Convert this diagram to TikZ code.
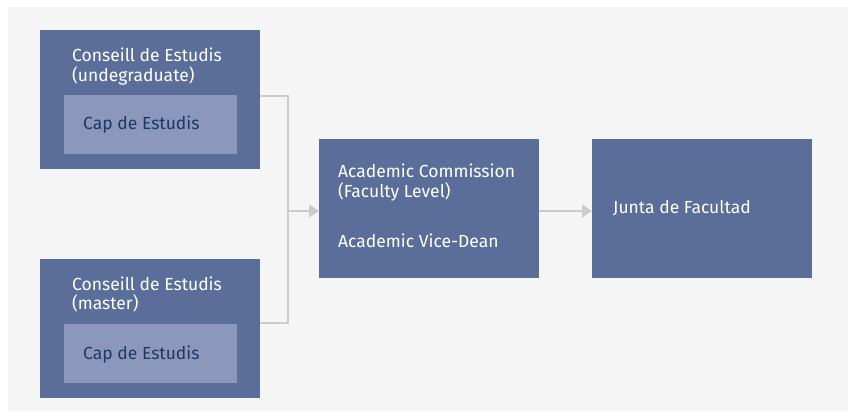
\documentclass[tikz,border=0pt]{standalone}
\usepackage{fontspec}
\setmainfont{Fira Sans}
\usetikzlibrary{arrows.meta}
\usetikzlibrary{positioning}
\usetikzlibrary{calc}

\definecolor{unitblue}{RGB}{91,110,154}
\definecolor{subblue}{RGB}{139,152,187}
\definecolor{subtext}{RGB}{28,56,104}
\definecolor{panelgray}{RGB}{245,245,245}
\definecolor{linkgray}{RGB}{204,204,204}

\tikzset{
  unit/.style={fill=unitblue, draw=none, minimum width=220pt,
    minimum height=139pt, anchor=north west, inner sep=0pt},
  subunit/.style={fill=subblue, draw=none, minimum width=173pt,
    minimum height=59pt, anchor=north west, inner sep=0pt},
  unittext/.style={text=white, font=\fontsize{17.5}{20}\selectfont,
    align=left, anchor=base west, inner sep=0pt},
  subtextstyle/.style={text=subtext, font=\fontsize{17.5}{20}\selectfont,
    anchor=base west, inner sep=0pt},
  link/.style={draw=linkgray, line width=1.4pt},
  linkarrow/.style={link, -{Triangle[length=10pt,width=13pt]}, linkgray}
}

\begin{document}
\begin{tikzpicture}[x=1pt,y=-1pt]
  \useasboundingbox (0,0) rectangle (856,419);
  \fill[panelgray] (8,7) rectangle (848,411);

  % councils of studies
  \node[unit] (ceu) at (40,30) {};
  \node[subunit] (capu) at (64,95) {};
  \node[unit] (cem) at (40,259) {};
  \node[subunit] (capm) at (64,324) {};

  % commission and board
  \node[unit] (acad) at (319,139) {};
  \node[unit] (junta) at (592,139) {};

  % texts (base = last line)
  \node[unittext] (ceutxt) at (72,82) {Conseill de Estudis\\(undegraduate)};
  \node[subtextstyle] (caputxt) at (83,130) {Cap de Estudis};
  \node[unittext] (cemtxt) at (72,310) {Conseill de Estudis\\(master)};
  \node[subtextstyle] (capmtxt) at (83,359) {Cap de Estudis};
  \node[unittext] (acadtxt) at (338,198) {Academic Commission\\(Faculty Level)};
  \node[unittext] (vicetxt) at (338,248) {Academic Vice-Dean};
  \node[unittext] (juntatxt) at (613,214) {Junta de Facultad};

  % connectors
  \coordinate (join) at (288,211);
  \draw[link] (ceu.east |- 0,96) -| (join) |- (cem.east |- 0,323);
  \draw[linkarrow] (join) -- (acad.west |- join);
  \draw[linkarrow] (acad.east |- join) -- (junta.west |- join);
\end{tikzpicture}
\end{document}
